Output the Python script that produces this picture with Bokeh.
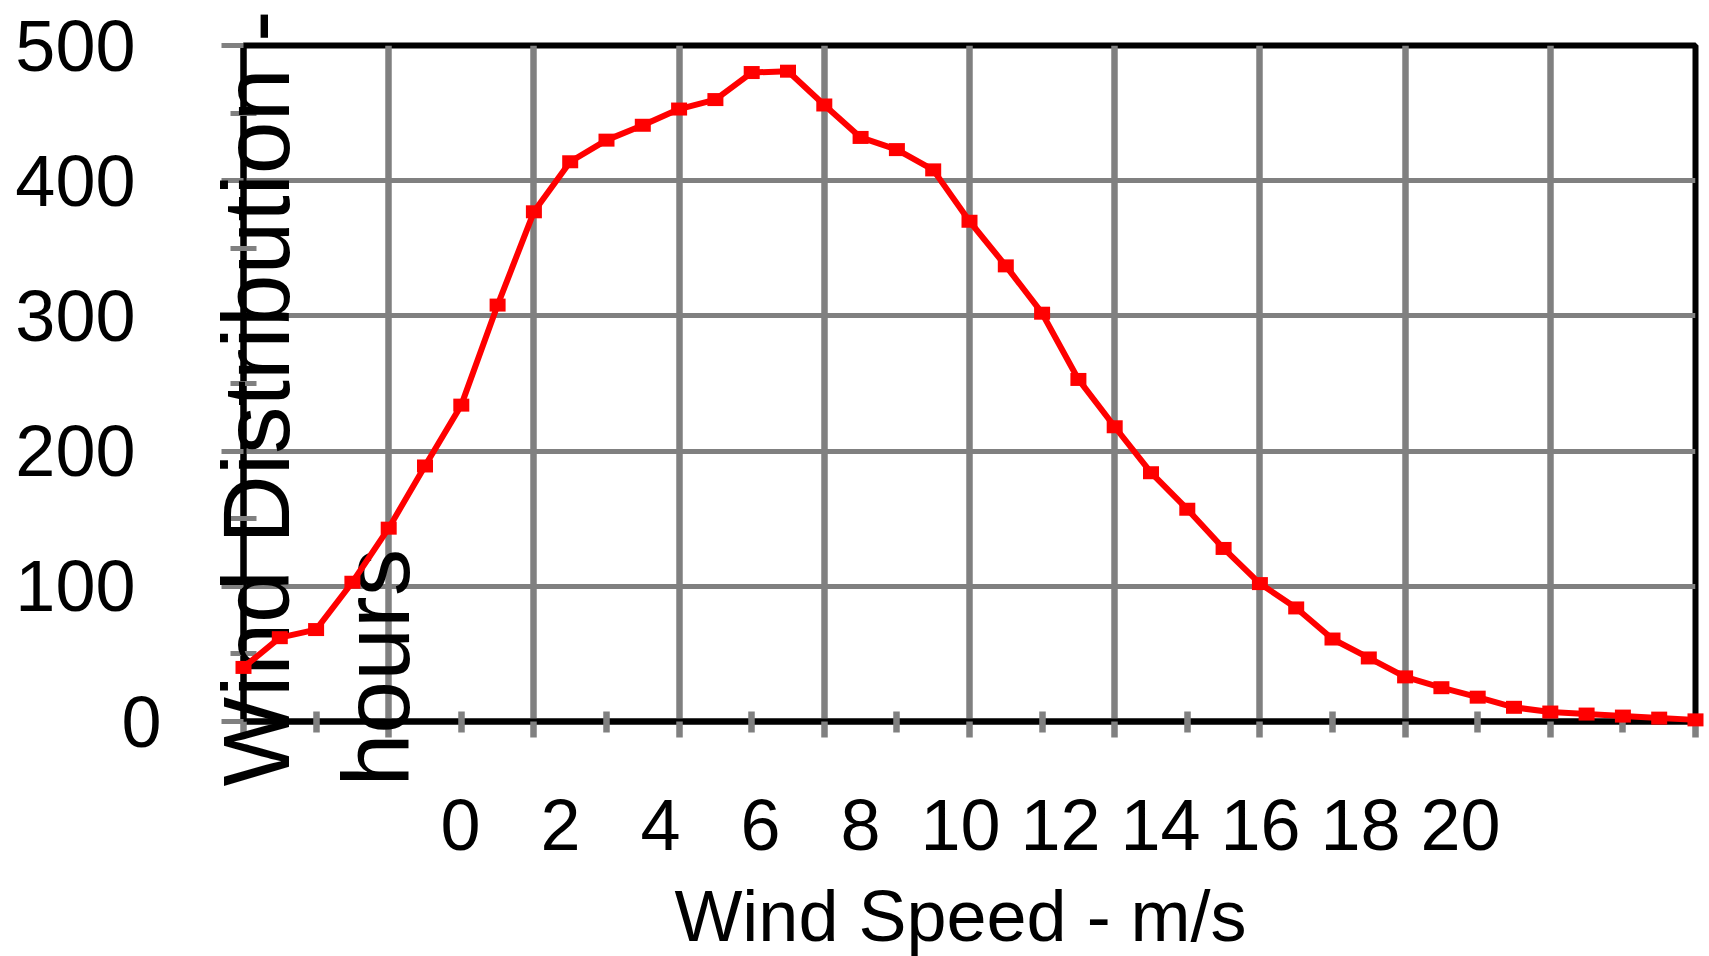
import math
from bokeh.plotting import figure
from bokeh.models import Range1d, LinearAxis, FixedTicker, Grid, ColumnDataSource
from bokeh.core.properties import value
from bokeh.embed import file_html
from bokeh.resources import INLINE

# ---------------- data ----------------
wind_speed = [0, 0.5, 1, 1.5, 2, 2.5, 3, 3.5, 4, 4.5, 5, 5.5, 6, 6.5, 7, 7.5, 8, 8.5,
              9, 9.5, 10, 10.5, 11, 11.5, 12, 12.5, 13, 13.5, 14, 14.5, 15, 15.5,
              16, 16.5, 17, 17.5, 18, 18.5, 19, 19.5, 20]
hours = [40, 62, 68, 103, 143, 189, 234, 308, 377, 414, 430, 441, 453, 460, 480,
         481, 456, 432, 423, 408, 370, 337, 302, 253, 218, 184, 157, 128, 102, 84,
         61, 47, 33, 25, 18, 10.5, 7, 5.5, 4, 2.5, 1.2]

x_major = [0, 2, 4, 6, 8, 10, 12, 14, 16, 18, 20]
x_minor = [1, 3, 5, 7, 9, 11, 13, 15, 17, 19]
x_tick_labels = ["0", "2", "4", "6", "8", "10", "12", "14", "16", "18", "20"]
y_major = [0, 100, 200, 300, 400, 500]
y_minor = [50, 150, 250, 350, 450]
y_tick_labels = ["0", "100", "200", "300", "400", "500"]

x_title = "Wind Speed - m/s"
y_title_lines = ["Wind Distribution -", "hours"]

# ---------------- layout constants (pixels) ----------------
W, H = 1709, 956
FL, FR, FT, FB = 243, 1695, 45, 721
X0, X1 = 0, 20
Y0, Y1 = 0, 500
FONT = "Liberation Sans"
GRAY = "#808080"


def dx(px):
    return X0 + (px - FL) / (FR - FL) * (X1 - X0)


def dy(py):
    return Y0 + (FB - py) / (FB - FT) * (Y1 - Y0)


def pw(n):
    return n / (FR - FL) * (X1 - X0)


def ph(n):
    return n / (FB - FT) * (Y1 - Y0)


p = figure(width=W, height=H, x_range=Range1d(X0, X1), y_range=Range1d(Y0, Y1),
           output_backend="svg", toolbar_location=None,
           x_axis_type=None, y_axis_type=None,
           min_border_left=FL, min_border_right=W - FR,
           min_border_top=FT, min_border_bottom=H - FB)
p.background_fill_color = "white"
p.border_fill_color = "white"
p.outline_line_color = "black"
p.outline_line_width = 6

# grids
p.add_layout(Grid(dimension=0, ticker=FixedTicker(ticks=x_major),
                  grid_line_color=GRAY, grid_line_width=6.5))
p.add_layout(Grid(dimension=1, ticker=FixedTicker(ticks=y_major),
                  grid_line_color=GRAY, grid_line_width=5))

# main x axis (ticks only)
xa = LinearAxis(ticker=FixedTicker(ticks=x_major, minor_ticks=x_minor),
                major_label_overrides={v: "" for v in x_major})
xa.axis_line_color = "black"
xa.axis_line_width = 6
xa.major_tick_line_color = GRAY
xa.major_tick_line_width = 6.5
xa.major_tick_in = 0
xa.major_tick_out = 16
xa.minor_tick_line_color = GRAY
xa.minor_tick_line_width = 6.5
xa.minor_tick_in = 10
xa.minor_tick_out = 11
xa.major_label_text_font_size = "0px"
xa.major_label_standoff = 0
p.add_layout(xa, "below")

# label axis (labels only, placed as drawn in the reference)
lab_start = (FL - 460) / 50.0
lab_end = (FR - 460) / 50.0
p.extra_x_ranges = {"lab": Range1d(lab_start, lab_end)}
la = LinearAxis(x_range_name="lab", ticker=FixedTicker(ticks=x_major),
                major_label_overrides={v: t for v, t in zip(x_major, x_tick_labels)})
la.axis_line_color = None
la.major_tick_line_color = None
la.minor_tick_line_color = None
la.major_tick_in = 0
la.major_tick_out = 0
la.minor_tick_in = 0
la.minor_tick_out = 0
la.major_label_standoff = 62
la.major_label_text_font = FONT
la.major_label_text_font_size = "72px"
la.major_label_text_color = "black"
p.add_layout(la, "below")

# y axis
ya = LinearAxis(ticker=FixedTicker(ticks=y_major, minor_ticks=y_minor),
                major_label_overrides={v: (t if v != 0 else "") for v, t in zip(y_major, y_tick_labels)})
ya.axis_line_color = "black"
ya.axis_line_width = 6
ya.major_tick_line_color = GRAY
ya.major_tick_line_width = 5
ya.major_tick_in = 0
ya.major_tick_out = 22
ya.minor_tick_line_color = GRAY
ya.minor_tick_line_width = 5
ya.minor_tick_in = 13
ya.minor_tick_out = 13
ya.major_label_standoff = 86
ya.major_label_text_font = FONT
ya.major_label_text_font_size = "72px"
ya.major_label_text_color = "black"
p.add_layout(ya, "left")

# texts drawn as overlay-level text glyphs (not clipped to the frame)
zero_src = ColumnDataSource(dict(x=[dx(161)], y=[y_major[0]], t=[y_tick_labels[0]]))
p.text(x="x", y="y", text="t", source=zero_src, text_align="right", text_baseline="middle",
       text_font=value(FONT), text_font_size="72px", text_color="black", level="overlay")

xt_src = ColumnDataSource(dict(x=[dx(960)], y=[dy(915)], t=[x_title]))
p.text(x="x", y="y", text="t", source=xt_src, text_align="center", text_baseline="alphabetic",
       text_font=value(FONT), text_font_size="72px", text_color="black", level="overlay")

yt_src = ColumnDataSource(dict(x=[dx(255), dx(375)], y=[dy(786), dy(786)], t=y_title_lines))
p.text(x="x", y="y", text="t", source=yt_src, angle=math.pi / 2, text_align="left",
       text_baseline="alphabetic", text_font=value(FONT), text_font_size="95px",
       text_color="black", level="overlay")

# series
p.line(wind_speed, hours, line_color="#ff0000", line_width=6, level="overlay")
p.rect(wind_speed, hours, width=pw(16), height=ph(13), fill_color="#ff0000",
       line_color=None, level="overlay")

open("out.html", "w").write(file_html(p, INLINE))
